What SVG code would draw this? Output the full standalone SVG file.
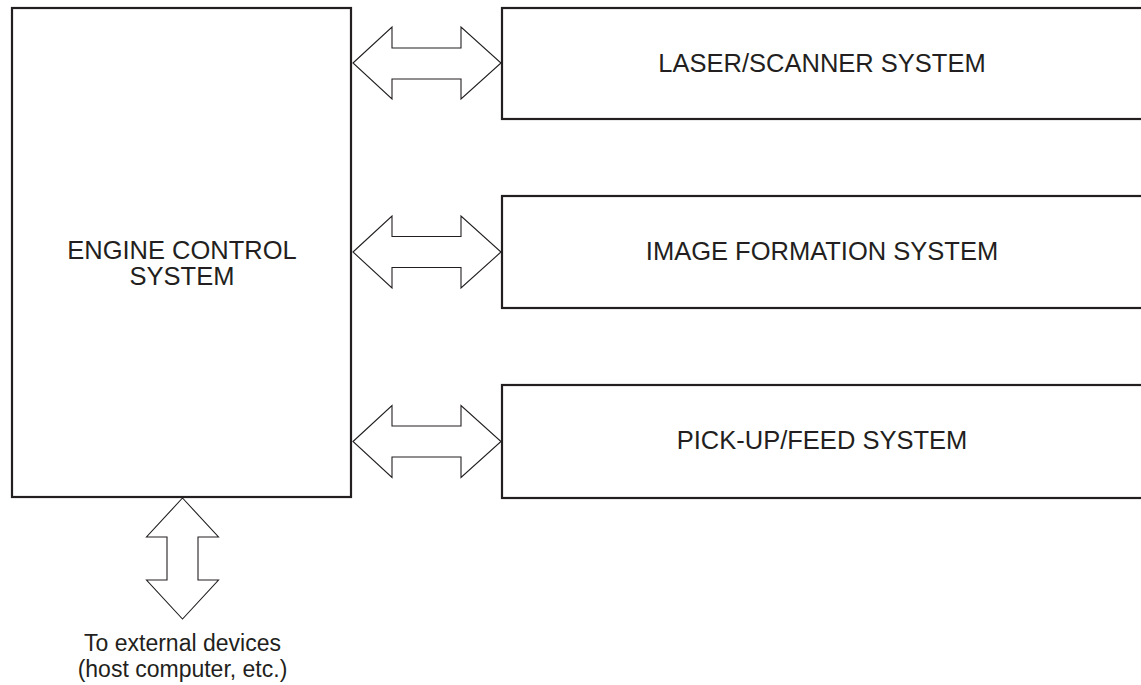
<svg xmlns="http://www.w3.org/2000/svg" width="1141" height="685" viewBox="0 0 1141 685">
<style>
.box{fill:#fff;stroke:#231f20;stroke-width:2.2}
.arr{fill:#fff;stroke:#231f20;stroke-width:1.1;stroke-linejoin:miter}
.lbl{font-family:"Liberation Sans",Arial,sans-serif;font-size:25.5px;fill:#231f20;text-anchor:middle}
.note{font-family:"Liberation Sans",Arial,sans-serif;font-size:23px;fill:#231f20;text-anchor:middle}
</style>
<rect width="1141" height="685" fill="#fff"/>
<g id="connectors">
<path class="arr" d="M353,63 L392,27 L392,48 L461,48 L461,27 L501,63 L461,99 L461,79 L392,79 L392,99 Z"/>
<path class="arr" d="M353,252 L392,216 L392,236.5 L461,236.5 L461,216 L501,252 L461,288 L461,267.5 L392,267.5 L392,288 Z"/>
<path class="arr" d="M353,441.5 L392,405.5 L392,426 L461,426 L461,405.5 L501,441.5 L461,477.5 L461,457 L392,457 L392,477.5 Z"/>
<path class="arr" d="M182.5,498 L218.5,537 L198,537 L198,580 L218.5,580 L182.5,619 L146.5,580 L167,580 L167,537 L146.5,537 Z"/>
</g>
<g id="engine-control">
<rect class="box" x="12" y="8" width="339" height="489"/>
<text class="lbl" x="182" y="259">ENGINE CONTROL</text>
<text class="lbl" x="182" y="285">SYSTEM</text>
</g>
<g id="laser-scanner">
<rect class="box" x="502" y="8" width="650" height="111"/>
<text class="lbl" x="822" y="72">LASER/SCANNER SYSTEM</text>
</g>
<g id="image-formation">
<rect class="box" x="502" y="196" width="650" height="112"/>
<text class="lbl" x="822" y="260">IMAGE FORMATION SYSTEM</text>
</g>
<g id="pickup-feed">
<rect class="box" x="502" y="385" width="650" height="113"/>
<text class="lbl" x="822" y="449">PICK-UP/FEED SYSTEM</text>
</g>
<g id="external">
<text class="note" x="182.5" y="651">To external devices</text>
<text class="note" x="182.5" y="677">(host computer, etc.)</text>
</g>
</svg>
